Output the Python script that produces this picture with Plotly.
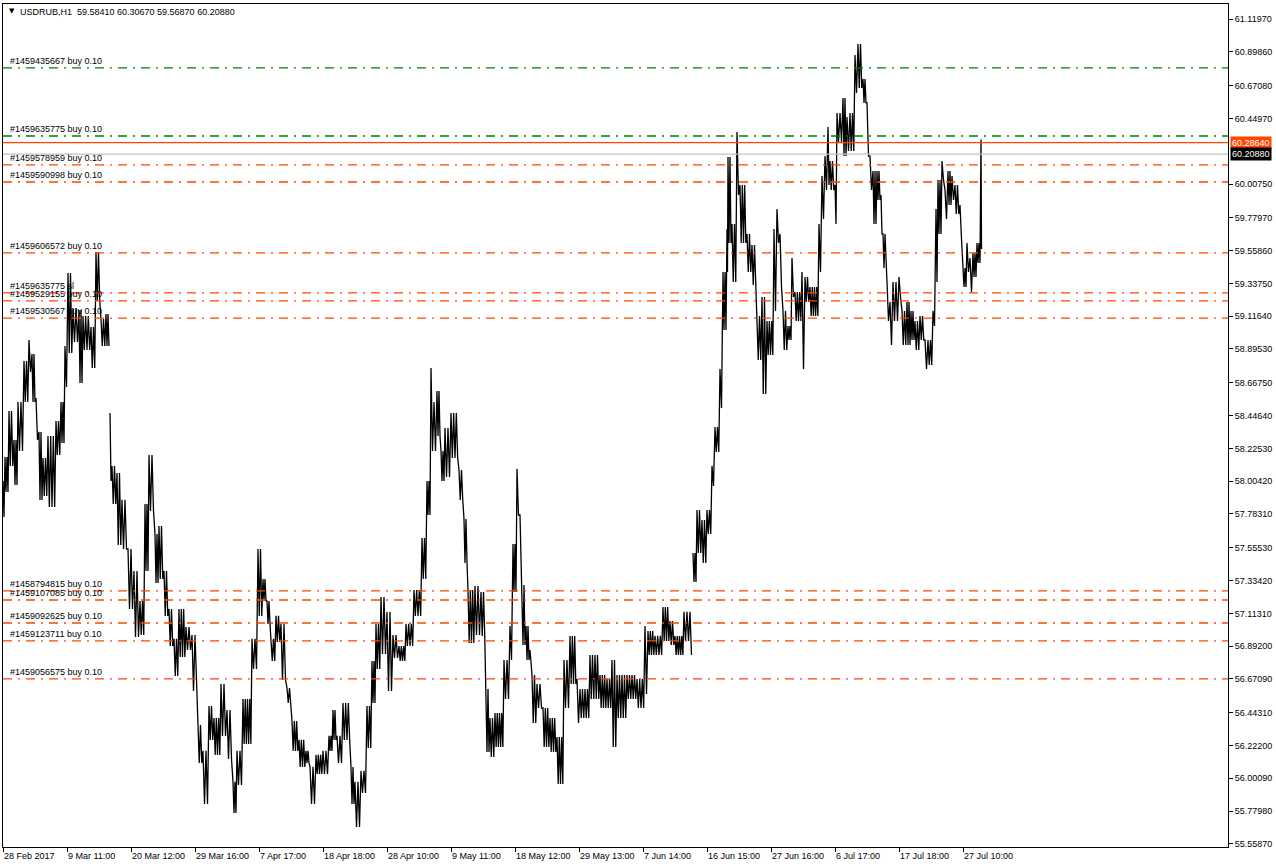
import plotly.graph_objects as go

# ---------------- data ----------------
# bar index (H1 bars from 28 Feb 2017) at start of each traced stretch, with its high / low
bars = [0, 4, 12, 22, 30, 42, 52, 58, 66, 72, 80, 90, 106, 116, 124, 130, 140, 152, 160, 176,
        186, 196, 206, 214, 218, 228, 238, 250, 262, 274, 284, 292, 304, 312, 322, 332, 342, 352, 366, 378,
        390, 400, 412, 422, 436, 448, 460, 468, 480, 498, 510, 520, 528, 536, 546, 556, 568, 578, 592, 606,
        614, 626, 640, 652, 660, 668, 680, 696, 704, 716, 728, 738, 746, 756, 768, 780, 792, 806, 822, 838,
        848, 856, 862, 868, 876, 884, 896, 912, 922, 930, 944, 956, 966, 974, 984, 1002, 1014, 1020, 1028, 1034,
        1038, 1046, 1054, 1058, 1068, 1080, 1094, 1108, 1122, 1134, 1148, 1154, 1174, 1194, 1208, 1218, 1228, 1248, 1268, 1284,
        1290, 1304, 1320, 1334, 1344, 1362, 1374, 1380, 1388, 1398, 1408, 1418, 1424, 1434, 1440, 1448, 1450, 1458, 1468, 1474,
        1488, 1498, 1508, 1518, 1528, 1542, 1548, 1554, 1560, 1570, 1578, 1584, 1598, 1604, 1614, 1632, 1638, 1644, 1650, 1654,
        1664, 1668, 1680, 1688, 1694, 1704, 1710, 1720, 1728, 1734, 1740, 1748, 1756, 1760, 1768, 1774, 1780, 1792, 1798, 1808,
        1816, 1824, 1834, 1844, 1850, 1860, 1866, 1870, 1878, 1884, 1890, 1898, 1904, 1914, 1920, 1928, 1934, 1940, 1948, 1956]
highs = [58.006, 58.167, 58.477, 58.282, 58.538, 58.815, 58.956, 58.862, 58.565, 58.336, 58.161, 58.309, 58.410, 58.538, 58.916, 59.408, 59.172, 59.158, 59.118, 59.044,
         59.549, 59.098, 59.131, 58.464, 58.107, 58.059, 57.878, 57.547, 57.399, 57.197, 57.851, 58.181, 57.648, 57.702, 57.399, 57.143, 56.941, 57.143, 57.021, 56.967,
         56.361, 56.186, 56.489, 56.408, 56.637, 56.462, 55.977, 56.186, 56.536, 56.941, 57.547, 57.345, 57.197, 56.941, 57.096, 57.042, 56.610, 56.388, 56.260, 56.186,
         56.078, 56.159, 56.186, 56.287, 56.462, 56.287, 56.509, 56.078, 55.977, 56.051, 56.489, 56.792, 57.042, 57.224, 57.123, 56.967, 56.893, 57.042, 57.271, 57.621,
         58.006, 58.767, 58.538, 58.612, 58.208, 58.363, 58.464, 58.080, 57.749, 57.271, 57.298, 57.257, 56.603, 56.408, 56.442, 56.799, 57.028, 57.581, 58.087, 57.776,
         57.305, 57.028, 56.866, 56.698, 56.637, 56.475, 56.408, 56.280, 56.799, 56.961, 56.671, 56.603, 56.833, 56.698, 56.671, 56.799, 56.698, 56.698, 56.671, 57.028,
         56.994, 56.961, 57.156, 57.062, 56.961, 57.123, 57.123, 57.520, 57.810, 57.743, 57.810, 58.107, 58.370, 58.761, 59.414, 59.704, 60.190, 59.738, 60.358, 60.001,
         59.671, 59.597, 59.118, 59.246, 59.084, 59.704, 59.839, 59.671, 59.152, 59.050, 59.509, 59.280, 59.414, 59.381, 59.313, 59.738, 60.062, 60.196, 60.392, 60.163,
         60.001, 60.486, 60.587, 60.459, 60.486, 60.877, 60.951, 60.716, 60.554, 60.196, 60.095, 60.095, 59.934, 59.671, 59.347, 59.212, 59.347, 59.381, 59.152, 59.212,
         59.152, 59.084, 59.118, 58.956, 58.956, 59.152, 59.839, 60.035, 60.163, 59.967, 60.095, 60.062, 60.001, 59.866, 59.441, 59.610, 59.509, 59.543, 59.610, 60.3067]
lows = [57.763, 57.931, 58.107, 57.979, 58.208, 58.538, 58.740, 58.538, 58.282, 57.878, 57.904, 57.830, 58.181, 58.262, 58.639, 58.868, 58.943, 58.666, 58.889, 58.767,
        59.219, 58.916, 58.916, 58.006, 57.851, 57.574, 57.547, 57.143, 56.954, 56.967, 57.399, 57.803, 57.318, 57.345, 57.096, 56.893, 56.691, 56.819, 56.866, 56.590,
        56.105, 55.828, 56.260, 56.159, 56.287, 56.132, 55.768, 55.956, 56.233, 56.738, 57.096, 57.197, 57.042, 56.792, 56.920, 56.664, 56.509, 56.186, 56.078, 56.105,
        55.828, 56.031, 56.031, 56.186, 56.260, 56.105, 56.260, 55.828, 55.673, 55.902, 56.206, 56.509, 56.738, 56.839, 56.590, 56.812, 56.792, 56.893, 57.096, 57.345,
        57.776, 58.208, 58.208, 58.309, 58.006, 58.033, 58.161, 57.878, 57.453, 56.914, 56.967, 56.961, 56.179, 56.145, 56.213, 56.536, 56.799, 57.257, 57.776, 57.419,
        56.900, 56.799, 56.765, 56.374, 56.475, 56.213, 56.179, 55.963, 56.475, 56.637, 56.374, 56.408, 56.536, 56.475, 56.475, 56.213, 56.408, 56.536, 56.475, 56.570,
        56.833, 56.833, 56.927, 56.900, 56.833, 56.927, 56.833, 57.325, 57.520, 57.453, 57.648, 57.972, 58.201, 58.498, 59.024, 59.414, 59.610, 59.347, 59.934, 59.610,
        59.414, 59.327, 58.821, 58.592, 58.855, 59.152, 59.610, 59.313, 58.889, 58.956, 59.246, 59.084, 58.761, 59.212, 59.118, 59.414, 59.772, 59.967, 60.001, 59.967,
        59.738, 60.291, 60.196, 60.230, 60.230, 60.621, 60.655, 60.554, 60.196, 59.967, 59.738, 59.900, 59.671, 59.441, 59.084, 58.922, 59.084, 59.246, 58.922, 58.922,
        58.956, 58.889, 58.956, 58.761, 58.788, 59.050, 59.347, 59.671, 60.035, 59.772, 59.866, 59.900, 59.805, 59.637, 59.313, 59.414, 59.280, 59.381, 59.475, 59.5687]
last_bar_end = 1958
# bar indices after which the price gapped (weekend gaps, no connecting stroke)
gap_after = [206, 1374]

# trade lines: price, label, kind
order_prices = [60.790, 60.331, 60.136, 60.021, 59.543, 59.273, 59.219, 59.104,
                57.264, 57.203, 57.048, 56.927, 56.671]
order_labels = ["#1459435667 buy 0.10", "#1459635775 buy 0.10", "#1459578959 buy 0.10",
                "#1459590998 buy 0.10", "#1459606572 buy 0.10", "#1459635775 sl",
                "#1459529155 buy 0.10", "#1459530567 buy 0.10", "#1458794815 buy 0.10",
                "#1459107085 buy 0.10", "#1459092625 buy 0.10", "#1459123711 buy 0.10",
                "#1459056575 buy 0.10"]
order_kind = ["open", "open", "sl", "sl", "sl", "sl", "sl", "sl", "sl", "sl", "sl", "sl", "sl"]

ask_price = 60.2864
bid_price = 60.2088

date_ticks = [0, 128, 256, 384, 512, 640, 768, 896, 1024, 1152, 1280, 1408, 1536, 1664, 1792, 1920]
date_labels = ["28 Feb 2017", "9 Mar 11:00", "20 Mar 12:00", "29 Mar 16:00", "7 Apr 17:00",
               "18 Apr 18:00", "28 Apr 10:00", "9 May 11:00", "18 May 12:00", "29 May 13:00",
               "7 Jun 14:00", "16 Jun 15:00", "27 Jun 16:00", "6 Jul 17:00", "17 Jul 18:00",
               "27 Jul 10:00"]

price_ticks = [61.11970, 60.89860, 60.67080, 60.44970, 60.00750, 59.77970, 59.55860,
               59.33750, 59.11640, 58.89530, 58.66750, 58.44640, 58.22530, 58.00420, 57.78310,
               57.55530, 57.33420, 57.11310, 56.89200, 56.67090, 56.44310, 56.22200, 56.00090,
               55.77980, 55.55870]

title_text = "USDRUB,H1  59.58410 60.30670 59.56870 60.20880"

# ---------------- build price trace ----------------
xs, ys = [], []
n = len(bars)
for i in range(n):
    s = bars[i]
    e = bars[i + 1] if i + 1 < n else last_bar_end
    w = e - s
    k = max(1, round(w / 5))
    for j in range(2 * k):
        xs.append(s + j * w / (2 * k))
        ys.append(highs[i] if j % 2 == 0 else lows[i])
    if s in gap_after:
        xs.append(None)
        ys.append(None)

FONT = "Liberation Sans, Arial, sans-serif"
ORANGE = "#FF4500"
GREEN = "#008000"

fig = go.Figure()
fig.add_trace(go.Scatter(x=xs, y=ys, mode="lines",
                         line=dict(color="black", width=1.3),
                         hoverinfo="skip", showlegend=False))

shapes = []
annotations = []
for p, lab, kind in zip(order_prices, order_labels, order_kind):
    col = GREEN if kind == "open" else ORANGE
    shapes.append(dict(type="line", xref="paper", x0=0, x1=1, yref="y", y0=p, y1=p,
                       line=dict(color=col, width=1.3, dash="9px,6px,2px,6px")))
    annotations.append(dict(xref="paper", x=0.004, y=p, yref="y", text=lab,
                            xanchor="left", yanchor="bottom", yshift=0, showarrow=False,
                            font=dict(family=FONT, size=9, color="black")))

shapes.append(dict(type="line", xref="paper", x0=0, x1=1, yref="y", y0=bid_price, y1=bid_price,
                   line=dict(color="#C0C0C0", width=1.2)))
shapes.append(dict(type="line", xref="paper", x0=0, x1=1, yref="y", y0=ask_price, y1=ask_price,
                   line=dict(color=ORANGE, width=1.3)))

annotations.append(dict(xref="paper", x=1, xshift=2, y=ask_price, yref="y",
                        text="%.5f" % ask_price, xanchor="left", yanchor="middle",
                        showarrow=False, bgcolor=ORANGE, borderpad=1,
                        font=dict(family=FONT, size=9, color="white")))
annotations.append(dict(xref="paper", x=1, xshift=2, y=bid_price, yref="y",
                        text="%.5f" % bid_price, xanchor="left", yanchor="middle",
                        showarrow=False, bgcolor="black", borderpad=1,
                        font=dict(family=FONT, size=9, color="white")))

annotations.append(dict(xref="paper", yref="paper", x=0.0033, y=1, yshift=-1,
                        text="▼", xanchor="left", yanchor="top", showarrow=False,
                        font=dict(family="DejaVu Sans", size=7, color="black")))
annotations.append(dict(xref="paper", yref="paper", x=0.0122, y=1, yshift=-1,
                        text=title_text, xanchor="left", yanchor="top", showarrow=False,
                        font=dict(family=FONT, size=9, color="black")))

fig.update_layout(
    width=1276, height=868,
    margin=dict(l=3, r=48, t=4, b=21),
    paper_bgcolor="white", plot_bgcolor="white",
    shapes=shapes, annotations=annotations,
    showlegend=False,
    xaxis=dict(range=[0, 2450], tickmode="array", tickvals=date_ticks, ticktext=date_labels,
               ticks="outside", ticklen=4, tickcolor="black", ticklabelposition="outside right",
               showgrid=False, zeroline=False, showline=True, linecolor="black", linewidth=1,
               mirror=True, tickfont=dict(family=FONT, size=9, color="black"), fixedrange=True),
    yaxis=dict(range=[55.538, 61.221], side="right", tickmode="array", tickvals=price_ticks,
               ticktext=["%.5f" % v for v in price_ticks],
               ticks="outside", ticklen=4, tickcolor="black",
               showgrid=False, zeroline=False, showline=True, linecolor="black", linewidth=1,
               mirror=True, tickfont=dict(family=FONT, size=9, color="black"), fixedrange=True),
)

fig.write_html("out.html", config={"displayModeBar": False},
               post_script="document.body.style.margin='0';document.body.style.overflow='hidden';")
